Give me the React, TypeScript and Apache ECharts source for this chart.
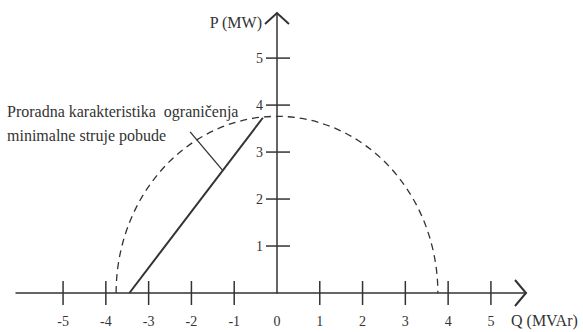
import React, { useEffect, useRef } from 'react';
import * as echarts from 'echarts';

// ---- data ----
const xLabelValues = [-5, -4, -3, -2, -1, 0, 1, 2, 3, 4, 5];
const xTickValues = [-5, -4, -3, -2, -1, 1, 2, 3, 4, 5];
const yTickValues = [1, 2, 3, 4, 5];
const xRange = [-6.1, 5.82];
const yRange = [0, 5.96];
const limitLine = [[-3.45, 0], [-0.33, 3.73]];
const leaderLine = [[-2.03, 3.43], [-1.28, 2.62]];
const capabilityRadius = [3.76];
const annotationLines = ['Proradna karakteristika  ograničenja', 'minimalne struje pobude'];
const xName = 'Q (MVAr)';
const yName = 'P (MW)';

const FONT = '"Liberation Serif", "Times New Roman", serif';
const INK = '#333333';

const GRID_LEFT = 16;
const GRID_RIGHT = 57;
const WIDTH = 583;

export default function App() {
  const ref = useRef<HTMLDivElement>(null);
  useEffect(() => {
    if (!ref.current) return;
    const chart = echarts.init(ref.current, null, { renderer: 'svg' });
    // place the P axis at Q = 0
    const plotW = WIDTH - GRID_LEFT - GRID_RIGHT;
    const yAxisOffset = -((0 - xRange[0]) / (xRange[1] - xRange[0])) * plotW;
    const option: any = {
      animation: false,
      backgroundColor: '#ffffff',
      grid: { left: GRID_LEFT, right: GRID_RIGHT, top: 13, bottom: 39 },
      xAxis: {
        type: 'value',
        min: xRange[0],
        max: xRange[1],
        splitLine: { show: false },
        axisTick: { show: false },
        axisLine: { onZero: true, lineStyle: { color: INK, width: 1.5 } },
        axisLabel: {
          customValues: xLabelValues,
          margin: 21,
          fontFamily: FONT,
          fontSize: 14,
          color: INK,
          formatter: (v: number) => String(v),
        },
        name: xName,
        nameLocation: 'end',
        nameGap: -15,
        nameTextStyle: {
          fontFamily: FONT,
          fontSize: 16,
          color: INK,
          align: 'left',
          verticalAlign: 'top',
          padding: [19, 0, 0, 0],
        },
      },
      yAxis: {
        type: 'value',
        min: yRange[0],
        max: yRange[1],
        position: 'left',
        offset: yAxisOffset,
        splitLine: { show: false },
        axisTick: { show: false },
        axisLine: { onZero: false, lineStyle: { color: INK, width: 1.5 } },
        axisLabel: {
          customValues: yTickValues,
          margin: 14,
          fontFamily: FONT,
          fontSize: 14,
          color: INK,
          padding: [13, 0, 0, 0],
        },
        name: yName,
        nameLocation: 'end',
        nameGap: -9,
        nameTextStyle: {
          fontFamily: FONT,
          fontSize: 16,
          color: INK,
          align: 'right',
          verticalAlign: 'middle',
          padding: [0, 15, 0, 0],
        },
      },
      graphic: [
        {
          type: 'text',
          left: 7,
          top: 99,
          style: {
            text: annotationLines.join('\n'),
            font: `16px ${FONT}`,
            lineHeight: 24,
            fill: INK,
          },
        },
      ],
      series: [
        {
          type: 'custom',
          name: 'ellipse',
          clip: false,
          data: capabilityRadius.map((r) => [0, 0, r]),
          renderItem: (params: any, api: any) => {
            const r = api.value(2);
            const c = api.coord([api.value(0), api.value(1)]);
            const rx = api.coord([r, 0])[0] - c[0];
            const ry = c[1] - api.coord([0, r])[1];
            return {
              type: 'path',
              shape: {
                pathData: `M ${c[0] - rx} ${c[1]} A ${rx} ${ry} 0 0 1 ${c[0] + rx} ${c[1]}`,
              },
              style: { stroke: INK, fill: 'none', lineWidth: 1.3, lineDash: [7, 5] },
            };
          },
        },
        {
          type: 'line',
          data: limitLine,
          symbol: 'none',
          lineStyle: { color: INK, width: 2 },
        },
        {
          type: 'line',
          data: leaderLine,
          symbol: 'none',
          lineStyle: { color: INK, width: 1.3 },
        },
        {
          type: 'custom',
          name: 'ticks',
          clip: false,
          data: [
            ...xTickValues.map((v) => [v, 0, 0]),
            ...yTickValues.map((v) => [0, v, 1]),
          ],
          renderItem: (params: any, api: any) => {
            const p = api.coord([api.value(0), api.value(1)]);
            const isY = api.value(2) === 1;
            return {
              type: 'line',
              shape: isY
                ? { x1: p[0] - 11, y1: p[1], x2: p[0] + 13, y2: p[1] }
                : { x1: p[0], y1: p[1] - 12, x2: p[0], y2: p[1] + 12 },
              style: { stroke: INK, lineWidth: 1.5 },
            };
          },
        },
        {
          type: 'custom',
          name: 'arrows',
          clip: false,
          data: [
            [xRange[1], 0, 0],
            [0, yRange[1], 1],
          ],
          renderItem: (params: any, api: any) => {
            const p = api.coord([api.value(0), api.value(1)]);
            const isY = api.value(2) === 1;
            const pts = isY
              ? [[p[0] - 12, p[1] + 11], [p[0], p[1]], [p[0] + 12, p[1] + 11]]
              : [[p[0] - 11, p[1] - 13], [p[0], p[1]], [p[0] - 11, p[1] + 13]];
            return {
              type: 'polyline',
              shape: { points: pts },
              style: { stroke: INK, fill: 'none', lineWidth: 2 },
            };
          },
        },
      ],
    };
    chart.setOption(option);
    return () => chart.dispose();
  }, []);
  return (
    <div
      ref={ref}
      style={{ position: 'fixed', left: 0, top: 0, width: 583, height: 332, background: '#fff' }}
    />
  );
}
